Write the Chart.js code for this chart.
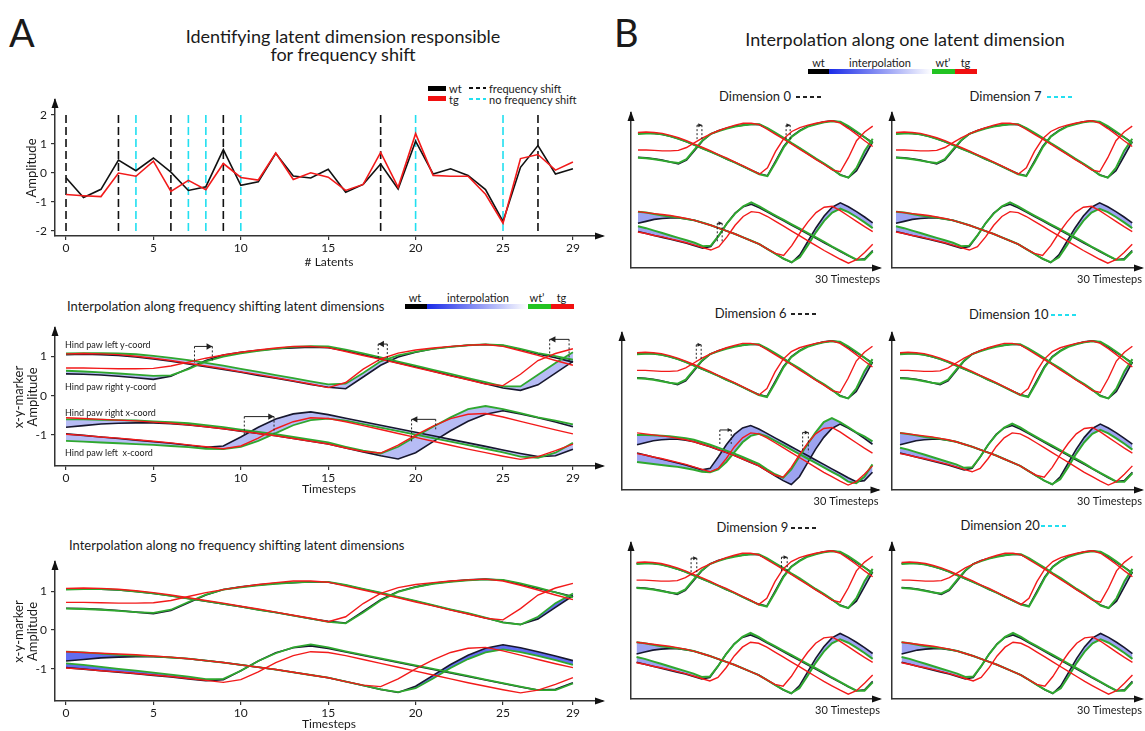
<!DOCTYPE html>
<html>
<head>
<meta charset="utf-8">
<script src="https://cdn.jsdelivr.net/npm/chart.js@4.4.0/dist/chart.umd.min.js"></script>
<style>
  body { margin: 0; width: 1145px; height: 731px; position: relative; overflow: hidden; background: #fff; }
  .lbl { position: absolute; white-space: pre; line-height: 1; font-family: Lato, "Open Sans", sans-serif; color: #1a1a1a; }
</style>
</head>
<body>
<script>
// categories
const timesteps = [0,1,2,3,4,5,6,7,8,9,10,11,12,13,14,15,16,17,18,19,20,21,22,23,24,25,26,27,28,29];
const latentTicks = [0,5,10,15,20,25,29];
const ampTicks = [-2,-1,0,1,2];
const markerTicks = [-1,0,1];

// panel A top: amplitude per latent dimension
const wtAmp = [-0.16,-0.84,-0.56,0.45,0.08,0.52,0.03,-0.6,-0.47,0.81,-0.42,-0.3,0.68,-0.1,-0.17,0.13,-0.66,-0.39,0.31,-0.55,1.1,-0.03,0.15,-0.08,-0.57,-1.67,0.2,0.95,-0.03,0.15];
const tgAmp = [-0.74,-0.78,-0.81,0.0,-0.11,0.41,-0.63,-0.25,-0.57,0.33,-0.15,-0.24,0.69,-0.22,0.01,-0.14,-0.6,-0.39,0.71,-0.49,1.36,-0.08,-0.11,-0.11,-0.73,-1.73,0.5,0.64,0.1,0.38];
const freqShiftDims = [0,3,6,9,18,27];
const noShiftDims = [4,7,8,10,20,25];

// wt trajectories (hind paw left y, right y, right x, left x)
const wtLY = [1.05,1.06,1.05,1.03,0.99,0.94,0.88,0.81,0.74,0.67,0.6,0.52,0.45,0.37,0.29,0.22,0.18,0.48,0.78,0.99,1.11,1.2,1.25,1.29,1.31,1.28,1.18,1.07,0.97,0.86];
const wtRY = [0.56,0.55,0.53,0.5,0.46,0.42,0.5,0.7,0.9,1.04,1.11,1.16,1.2,1.22,1.24,1.23,1.15,1.05,0.95,0.84,0.74,0.63,0.52,0.42,0.31,0.2,0.14,0.28,0.58,0.88];
const wtRX = [-0.8,-0.76,-0.72,-0.7,-0.69,-0.69,-0.71,-0.74,-0.79,-0.84,-0.9,-0.96,-1.02,-1.09,-1.16,-1.23,-1.33,-1.43,-1.53,-1.61,-1.45,-1.17,-0.89,-0.65,-0.47,-0.38,-0.46,-0.56,-0.67,-0.79];
const wtLX = [-0.97,-1.01,-1.05,-1.09,-1.13,-1.17,-1.21,-1.26,-1.31,-1.28,-1.05,-0.8,-0.59,-0.46,-0.41,-0.48,-0.57,-0.66,-0.75,-0.84,-0.93,-1.02,-1.11,-1.2,-1.29,-1.38,-1.47,-1.55,-1.53,-1.36];

// tg trajectories
const tgLY = [1.07,1.08,1.07,1.05,1.01,0.96,0.9,0.83,0.76,0.69,0.61,0.54,0.46,0.38,0.3,0.21,0.34,0.68,0.94,1.09,1.17,1.22,1.26,1.29,1.31,1.26,1.15,1.03,0.9,0.78];
const tgRY = [0.71,0.71,0.7,0.69,0.69,0.7,0.76,0.86,0.96,1.04,1.11,1.17,1.22,1.26,1.26,1.23,1.13,1.03,0.93,0.83,0.72,0.62,0.51,0.41,0.3,0.26,0.55,0.9,1.08,1.2];
const tgRX = [-0.56,-0.58,-0.6,-0.62,-0.64,-0.67,-0.7,-0.74,-0.79,-0.84,-0.9,-0.96,-1.02,-1.09,-1.16,-1.23,-1.33,-1.42,-1.46,-1.26,-1.0,-0.77,-0.58,-0.47,-0.45,-0.54,-0.65,-0.76,-0.87,-0.97];
const tgLX = [-0.98,-1.01,-1.05,-1.08,-1.12,-1.16,-1.2,-1.25,-1.3,-1.35,-1.28,-1.08,-0.84,-0.66,-0.56,-0.58,-0.66,-0.76,-0.86,-0.96,-1.06,-1.16,-1.26,-1.36,-1.45,-1.54,-1.62,-1.55,-1.4,-1.23];

// wt' after interpolating along frequency shifting dimensions
const shLY = [1.08,1.09,1.09,1.08,1.06,1.02,0.97,0.91,0.84,0.77,0.69,0.61,0.53,0.45,0.37,0.29,0.31,0.58,0.88,1.03,1.12,1.2,1.25,1.29,1.31,1.29,1.2,1.09,1.01,0.92];
const shRY = [0.64,0.62,0.6,0.57,0.54,0.51,0.52,0.68,0.88,1.0,1.08,1.15,1.2,1.25,1.27,1.26,1.18,1.08,0.98,0.87,0.77,0.66,0.56,0.45,0.35,0.24,0.24,0.54,0.84,1.11];
const shRX = [-0.6,-0.6,-0.61,-0.62,-0.63,-0.65,-0.67,-0.7,-0.75,-0.8,-0.86,-0.92,-0.98,-1.05,-1.12,-1.19,-1.3,-1.4,-1.47,-1.3,-1.04,-0.79,-0.55,-0.34,-0.26,-0.34,-0.44,-0.55,-0.63,-0.73];
const shLX = [-1.15,-1.17,-1.19,-1.21,-1.23,-1.25,-1.28,-1.31,-1.35,-1.36,-1.3,-1.15,-0.95,-0.75,-0.62,-0.58,-0.63,-0.72,-0.81,-0.9,-0.99,-1.08,-1.17,-1.26,-1.35,-1.44,-1.55,-1.58,-1.45,-1.2];

// wt' after interpolating along no frequency shifting dimensions
const nsLY = [1.04,1.05,1.05,1.03,0.99,0.94,0.88,0.81,0.74,0.67,0.6,0.52,0.45,0.37,0.29,0.21,0.17,0.45,0.76,0.98,1.1,1.19,1.24,1.28,1.3,1.29,1.2,1.09,0.97,0.84];
const nsRY = [0.55,0.54,0.52,0.49,0.46,0.44,0.52,0.72,0.91,1.04,1.1,1.15,1.19,1.22,1.24,1.24,1.16,1.06,0.96,0.85,0.75,0.64,0.53,0.43,0.32,0.19,0.14,0.34,0.69,0.94];
const nsRX = [-0.56,-0.58,-0.61,-0.64,-0.66,-0.68,-0.71,-0.74,-0.79,-0.84,-0.9,-0.96,-1.02,-1.09,-1.16,-1.23,-1.33,-1.43,-1.53,-1.6,-1.5,-1.25,-0.98,-0.75,-0.58,-0.5,-0.57,-0.67,-0.78,-0.9];
const nsLX = [-0.86,-0.9,-0.95,-1.0,-1.05,-1.1,-1.15,-1.2,-1.27,-1.26,-1.05,-0.8,-0.6,-0.45,-0.37,-0.45,-0.55,-0.64,-0.73,-0.82,-0.91,-1.0,-1.09,-1.18,-1.28,-1.37,-1.46,-1.55,-1.55,-1.38];

// shift annotations (timestep from/to, amplitude of bracket top and feet)
const shiftMarks = [
  {from: 7.35, to: 8.37, top: 1.26, y0: 0.84, y1: 0.9, dir: 1},
  {from: 17.86, to: 18.38, top: 1.32, y0: 0.88, y1: 0.84, dir: -1},
  {from: 27.67, to: 28.78, top: 1.44, y0: 1.0, y1: 0.84, dir: -1},
  {from: 10.2, to: 11.9, top: -0.53, y0: -1.0, y1: -0.96, dir: 1},
  {from: 19.77, to: 21.15, top: -0.6, y0: -1.17, y1: -0.87, dir: -1}
];

const FONT = 'Lato, "Open Sans", sans-serif';
const INK = '#1a1a1a', AXIS = '#333';
const BLACK = '#17172e', RED = '#f21a1a', GREEN = '#2fa82f', CYAN = '#22dff0';

function place(left, top, w, h) {
  const d = document.createElement('div');
  d.style.cssText = `position:absolute;left:${left}px;top:${top}px;width:${w}px;height:${h}px;`;
  const c = document.createElement('canvas');
  d.appendChild(c);
  document.body.appendChild(d);
  return c;
}

function label(text, x, y, size, center, css) {
  const d = document.createElement('div');
  d.className = 'lbl';
  d.textContent = text;
  d.style.cssText = `left:${x}px;top:${y}px;font-size:${size}px;transform:translate(${center ? '-50%' : '0'},-50%);` + (css || '');
  document.body.appendChild(d);
}

function dashes(x, y, w, color) {
  const d = document.createElement('div');
  d.style.cssText = `position:absolute;left:${x}px;top:${y - 1}px;width:${w}px;height:2px;background:repeating-linear-gradient(90deg,${color} 0 4px,transparent 4px 7px);`;
  document.body.appendChild(d);
}

function bar(x0, x1, y, h, bg) {
  const d = document.createElement('div');
  d.style.cssText = `position:absolute;left:${x0}px;top:${y - h / 2}px;width:${x1 - x0}px;height:${h}px;background:${bg};`;
  document.body.appendChild(d);
}

function colorbar(x0, y, h, w) {
  // segments: wt, interpolation, wt', tg
  let x = x0;
  bar(x, x + w[0], y, h, '#000'); x += w[0];
  bar(x, x + w[1], y, h, 'linear-gradient(90deg,#1a2be8,#ffffff)'); x += w[1];
  bar(x, x + w[2], y, h, '#22c322'); x += w[2];
  bar(x, x + w[3], y, h, '#f01010');
}

const arrowAxes = {
  id: 'arrowAxes',
  afterDraw(chart) {
    const {ctx, chartArea: a} = chart;
    ctx.save();
    ctx.fillStyle = '#111';
    ctx.beginPath();
    ctx.moveTo(a.left, a.top - 2); ctx.lineTo(a.left - 3.5, a.top + 8); ctx.lineTo(a.left + 3.5, a.top + 8);
    ctx.fill();
    ctx.beginPath();
    ctx.moveTo(a.right + 2, a.bottom); ctx.lineTo(a.right - 8, a.bottom - 3.5); ctx.lineTo(a.right - 8, a.bottom + 3.5);
    ctx.fill();
    ctx.restore();
  }
};

function shiftPlugin(marks, head) {
  return {
    id: 'shiftMarks',
    afterDatasetsDraw(chart) {
      const {ctx, scales: {x, y}} = chart;
      ctx.save();
      ctx.strokeStyle = '#222'; ctx.fillStyle = '#222'; ctx.lineWidth = 1;
      marks.forEach(m => {
        const xa = x.getPixelForValue(m.from), xb = x.getPixelForValue(m.to), yt = y.getPixelForValue(m.top);
        ctx.setLineDash([2, 2]);
        ctx.beginPath();
        ctx.moveTo(xa, yt); ctx.lineTo(xa, y.getPixelForValue(m.y0));
        ctx.moveTo(xb, yt); ctx.lineTo(xb, y.getPixelForValue(m.y1));
        ctx.stroke();
        ctx.setLineDash([]);
        ctx.beginPath(); ctx.moveTo(xa, yt); ctx.lineTo(xb, yt); ctx.stroke();
        const tip = m.dir > 0 ? xb : xa;
        ctx.beginPath();
        ctx.moveTo(tip, yt); ctx.lineTo(tip - m.dir * head * 1.8, yt - head); ctx.lineTo(tip - m.dir * head * 1.8, yt + head);
        ctx.fill();
      });
      ctx.restore();
    }
  };
}

// fixed scale boxes, no label overflow padding
function noPad(s) {
  s.paddingTop = 0; s.paddingBottom = 0; s.paddingLeft = 0; s.paddingRight = 0;
}

function axes(o) {
  const x = {
    type: 'linear', min: o.x[0], max: o.x[1],
    afterFit: s => { s.height = o.xh; noPad(s); },
    grid: {drawOnChartArea: false, drawTicks: !!o.xt, tickLength: 4, color: AXIS, lineWidth: 1.2},
    border: {color: AXIS, width: 1.5},
    ticks: {display: !!o.xt, padding: 1, color: INK, font: {family: FONT, size: 12}, maxRotation: 0, autoSkip: false},
    title: {display: !!o.xTitle, text: o.xTitle, align: o.xAlign || 'center', color: INK,
            font: {family: FONT, size: o.xTitleSize || 12}, padding: {top: 0, bottom: o.xTitlePad || 0}}
  };
  if (o.xt) x.afterBuildTicks = s => { s.ticks = o.xt.map(v => ({value: v})); };
  const y = {
    type: 'linear', min: o.y[0], max: o.y[1],
    afterFit: s => { s.width = o.yw; noPad(s); },
    grid: {drawOnChartArea: false, drawTicks: !!o.yt, tickLength: 4, color: AXIS, lineWidth: 1.2},
    border: {color: AXIS, width: 1.5},
    ticks: {display: !!o.yt, padding: 4, color: INK, font: {family: FONT, size: 12}},
    title: {display: !!o.yTitle, text: o.yTitle, color: INK,
            font: {family: FONT, size: 13, lineHeight: 1.08}, padding: {top: o.yTitlePad || 0, bottom: 0}}
  };
  if (o.yt) y.afterBuildTicks = s => { s.ticks = o.yt.map(v => ({value: v})); };
  return {x, y};
}

function series(values, color, width, extra) {
  return Object.assign({
    data: values.map((v, i) => ({x: timesteps[i], y: v})),
    borderColor: color, borderWidth: width, pointRadius: 0, tension: 0, fill: false
  }, extra || {});
}

function trajDatasets(greens, band, w) {
  const wt = [wtLY, wtRY, wtRX, wtLX];
  const tg = [tgLY, tgRY, tgRX, tgLX];
  const ds = [];
  tg.forEach(v => ds.push(series(v, RED, w[2])));
  greens.forEach(v => ds.push(series(v, GREEN, w[1])));
  wt.forEach((v, k) => ds.push(series(v, BLACK, w[0], {fill: {target: 4 + k}, backgroundColor: band})));
  return ds;
}

function makeChart(canvas, datasets, scales, pad, plugins) {
  return new Chart(canvas.getContext('2d'), {
    type: 'line',
    data: {datasets},
    options: {
      responsive: true, maintainAspectRatio: false, animation: false, devicePixelRatio: 1,
      layout: {padding: pad},
      scales,
      plugins: {legend: {display: false}, tooltip: {enabled: false},
                filler: {propagate: false, drawTime: 'beforeDatasetsDraw'}}
    },
    plugins: [arrowAxes].concat(plugins || [])
  });
}

// ---------- Panel A ----------
label('A', 9, 31.5, 38);
label('Identifying latent dimension responsible', 343, 36, 18, true);
label('for frequency shift', 343, 54, 18, true);

// legend for top chart
bar(428, 446, 88, 5, '#000');
label('wt', 449, 88, 11);
dashes(469, 88, 17, '#111');
label('frequency shift', 489, 88, 11);
bar(428, 446, 98.7, 5, '#f01010');
label('tg', 449, 99, 11);
dashes(469, 98.7, 17, CYAN);
label('no frequency shift', 489, 99, 11);

const topSets = [
  series(tgAmp, RED, 1.6),
  series(wtAmp, '#111', 1.6)
];
freqShiftDims.forEach(d => topSets.push({data: [{x: d, y: -2}, {x: d, y: 2}], borderColor: '#111', borderWidth: 1.6, borderDash: [8, 4], pointRadius: 0}));
noShiftDims.forEach(d => topSets.push({data: [{x: d, y: -2}, {x: d, y: 2}], borderColor: CYAN, borderWidth: 1.6, borderDash: [8, 4], pointRadius: 0}));

makeChart(place(0, 96, 606, 174), topSets,
  axes({x: [-0.63, 30.72], xt: latentTicks, xh: 34, xTitle: '# Latents', xTitlePad: 1,
        y: [-2.17, 2.52], yt: ampTicks, yw: 55, yTitle: 'Amplitude', yTitlePad: 25}),
  {left: 0, right: 3, top: 4, bottom: 0});

// middle chart: frequency shifting dimensions
label('Interpolation along frequency shifting latent dimensions', 67, 306, 13);
colorbar(404.5, 306, 5, [22.5, 101, 23, 23]);
label('wt', 415, 297, 11, true);
label('interpolation', 478, 297, 11, true);
label('wt\u2019', 537, 297, 11, true);
label('tg', 561.5, 297, 11, true);

makeChart(place(0, 324, 606, 172), trajDatasets([shLY, shRY, shRX, shLX], 'rgba(112,122,236,0.5)', [1.6, 1.8, 1.4]),
  axes({x: [-0.63, 30.72], xt: latentTicks, xh: 30, xTitle: 'Timesteps',
        y: [-1.79, 1.73], yt: markerTicks, yw: 55, yTitle: ['x-y-marker', 'Amplitude'], yTitlePad: 12}),
  {left: 0, right: 3, top: 4, bottom: 0}, [shiftPlugin(shiftMarks, 3.2)]);

label('Hind paw left y-coord', 65, 344, 9);
label('Hind paw right y-coord', 65, 386, 9);
label('Hind paw right x-coord', 65, 412, 9);
label('Hind paw left  x-coord', 65, 452, 9);

// bottom chart: no frequency shifting dimensions
label('Interpolation along no frequency shifting latent dimensions', 69, 545, 13);
makeChart(place(0, 558, 606, 173), trajDatasets([nsLY, nsRY, nsRX, nsLX], 'rgba(70,84,236,0.85)', [1.6, 1.8, 1.4]),
  axes({x: [-0.63, 30.72], xt: latentTicks, xh: 30, xTitle: 'Timesteps',
        y: [-1.83, 1.75], yt: markerTicks, yw: 55, yTitle: ['x-y-marker', 'Amplitude'], yTitlePad: 12}),
  {left: 0, right: 3, top: 4, bottom: 0});

// ---------- Panel B ----------
label('B', 614, 31.5, 38);
label('Interpolation along one latent dimension', 905, 39, 18, true);
colorbar(807.5, 71, 5, [21.5, 103, 22.5, 22]);
label('wt', 818.5, 62, 11, true);
label('interpolation', 880, 62, 11, true);
label('wt\u2019', 943, 62, 11, true);
label('tg', 965.5, 62, 11, true);

const dims = [
  {name: 'Dimension 0', color: '#222', tx: 719, ty: 96, dx: 796, axisX: 631, right: 880, top: 113, bottom: 268, x: [-0.86, 29.9],
   greens: [nsLY, nsRY, nsRX, nsLX],
   marks: [{from: 7.3, to: 7.9, top: 1.22, y0: 0.91, y1: 0.91, dir: 1}, {from: 18.3, to: 18.8, top: 1.22, y0: 0.91, y1: 0.91, dir: 1},
           {from: 9.8, to: 10.4, top: -0.8, y0: -1.18, y1: -1.18, dir: 1}]},
  {name: 'Dimension 7', color: CYAN, tx: 969.5, ty: 96, dx: 1046.6, axisX: 892, right: 1142, top: 113, bottom: 268, x: [-0.49, 30.2],
   greens: [nsLY, nsRY, nsRX, nsLX], marks: []},
  {name: 'Dimension 6', color: '#222', tx: 714.7, ty: 313, dx: 790.5, axisX: 621.5, right: 878, top: 333, bottom: 490, x: [-1.85, 29.74],
   greens: [nsLY, nsRY, shRX, shLX],
   marks: [{from: 7.3, to: 7.9, top: 1.23, y0: 0.9, y1: 0.9, dir: 1}, {from: 10.2, to: 11.6, top: -0.5, y0: -0.8, y1: -0.8, dir: 1},
           {from: 20.4, to: 21.1, top: -0.55, y0: -0.96, y1: -0.96, dir: 1}]},
  {name: 'Dimension 10', color: CYAN, tx: 969, ty: 314, dx: 1050.5, axisX: 892, right: 1142, top: 333, bottom: 490, x: [-1.0, 30.2],
   greens: [nsLY, nsRY, nsRX, nsLX], marks: []},
  {name: 'Dimension 9', color: '#222', tx: 716.4, ty: 527, dx: 791, axisX: 631, right: 880, top: 543, bottom: 699, x: [-0.68, 29.9],
   greens: [nsLY, nsRY, nsRX, nsLX],
   marks: [{from: 6.7, to: 7.4, top: 1.16, y0: 0.82, y1: 0.82, dir: 1}, {from: 17.8, to: 18.5, top: 1.18, y0: 0.89, y1: 0.89, dir: 1}]},
  {name: 'Dimension 20', color: CYAN, tx: 960.4, ty: 525, dx: 1040.7, axisX: 892, right: 1142, top: 543, bottom: 699, x: [-1.2, 30.2],
   greens: [nsLY, nsRY, nsRX, nsLX], marks: []}
];

dims.forEach(d => {
  label(d.name, d.tx, d.ty, 13);
  dashes(d.dx, d.ty + 1, 28, d.color);
  const left = d.axisX - 4, top = d.top - 4;
  makeChart(place(left, top, d.right + 3 - left, d.bottom - top + 18),
    trajDatasets(d.greens, 'rgba(92,102,232,0.6)', [1.6, 2, 1.4]),
    axes({x: d.x, xh: 18, xTitle: '30 Timesteps', xAlign: 'end', xTitleSize: 11, y: [-1.72, 1.47], yw: 4}),
    {left: 0, right: 3, top: 4, bottom: 0}, [shiftPlugin(d.marks, 2)]);
});
</script>
</body>
</html>
